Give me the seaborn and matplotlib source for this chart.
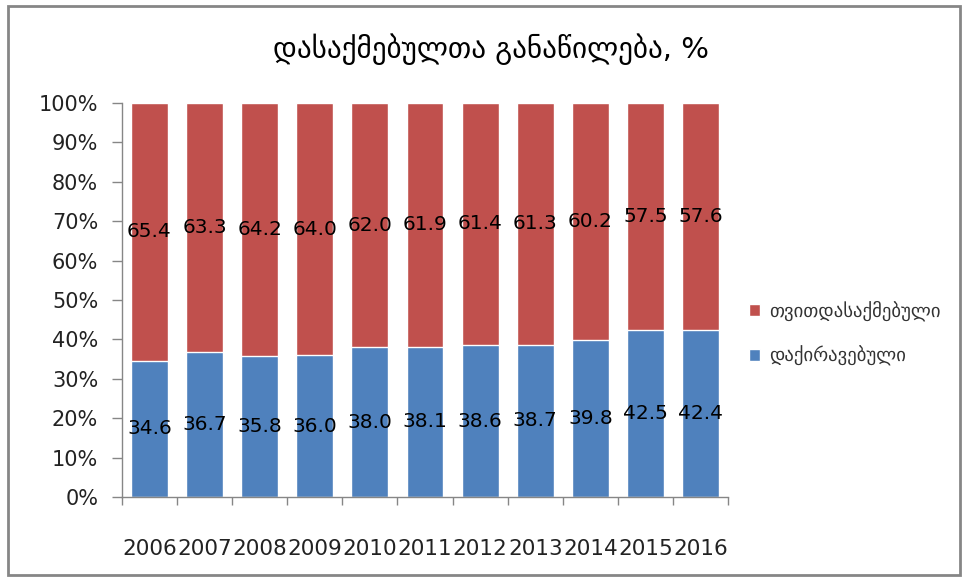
import matplotlib
matplotlib.use("Agg")
import matplotlib.pyplot as plt
import seaborn as sns
import pandas as pd
from matplotlib.patches import Rectangle, Patch

years = ["2006", "2007", "2008", "2009", "2010", "2011", "2012", "2013", "2014", "2015", "2016"]
hired = [34.6, 36.7, 35.8, 36.0, 38.0, 38.1, 38.6, 38.7, 39.8, 42.5, 42.4]
self_emp = [65.4, 63.3, 64.2, 64.0, 62.0, 61.9, 61.4, 61.3, 60.2, 57.5, 57.6]

title = "დასაქმებულთა განაწილება, %"
lbl_self = "თვითდასაქმებული"
lbl_hired = "დაქირავებული"

red = "#C0504D"
blue = "#4F81BD"
grey = "#868686"

df = pd.DataFrame({"year": years, "hired": hired, "self": self_emp})
df["total"] = df["hired"] + df["self"]

sns.set_style("white")
plt.rcParams["font.family"] = ["DejaVu Sans"]

fig = plt.figure(figsize=(9.67, 5.78), dpi=100)
ax = fig.add_axes([0.126, 0.140, 0.627, 0.682])

# stacked: full bar in red, blue part on top of it
sns.barplot(data=df, x="year", y="total", color=red, width=0.67, saturation=1, ax=ax)
sns.barplot(data=df, x="year", y="hired", color=blue, width=0.67, saturation=1, ax=ax)

for i in range(len(years)):
    ax.text(i, hired[i] / 2, f"{hired[i]:.1f}", ha="center", va="center", fontsize=14.5, color="black")
    ax.text(i, hired[i] + self_emp[i] / 2, f"{self_emp[i]:.1f}", ha="center", va="center",
            fontsize=14.5, color="black")

ax.set_xlim(-0.5, len(years) - 0.5)
ax.set_ylim(0, 100)
ax.set_yticks(range(0, 101, 10))
ax.set_yticklabels([f"{v}%" for v in range(0, 101, 10)], fontsize=15, color="#222222")

# tick marks between categories, labels at centers
ax.set_xticks([i - 0.5 for i in range(len(years) + 1)])
ax.set_xticklabels([])
ax.set_xticks(range(len(years)), minor=True)
ax.set_xticklabels(years, minor=True, fontsize=15.5, color="#222222")
ax.tick_params(axis="x", which="major", bottom=True, length=6, color=grey, width=1, direction="out")
ax.tick_params(axis="x", which="minor", bottom=True, length=0, pad=30)
ax.tick_params(axis="y", left=True, length=7, color=grey, width=1, direction="out", pad=10)

for s in ["top", "right"]:
    ax.spines[s].set_visible(False)
for s in ["left", "bottom"]:
    ax.spines[s].set_color(grey)
    ax.spines[s].set_linewidth(1)

ax.set_xlabel("")
ax.set_ylabel("")

fig.text(0.508, 0.915, title, ha="center", va="center", fontsize=21, color="black")

handles = [Patch(facecolor=red, label=lbl_self), Patch(facecolor=blue, label=lbl_hired)]
fig.legend(handles=handles, loc="center left", bbox_to_anchor=(0.757, 0.423), frameon=False,
           fontsize=13.5, handlelength=0.6, handleheight=0.6, handletextpad=0.5, labelspacing=1.3,
           labelcolor="#333333")

fig.patches.append(Rectangle((0.008, 0.005), 0.985, 0.985, transform=fig.transFigure,
                             fill=False, edgecolor=grey, linewidth=2))

fig.savefig("out.png", dpi=100)
